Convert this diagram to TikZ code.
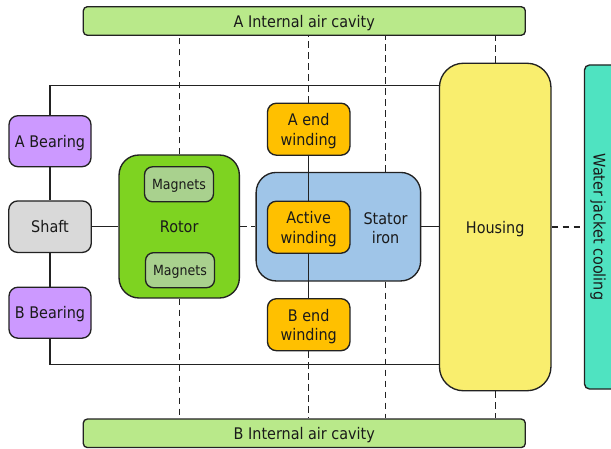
\documentclass[tikz,border=0pt]{standalone}
\usepackage{fontspec}
\setmainfont{DejaVu Sans Condensed}
\usepackage{tikz}
\definecolor{linedark}{HTML}{222222}
\definecolor{txtdark}{HTML}{1A1A1A}
\definecolor{aircol}{HTML}{B9E98A}
\definecolor{bearcol}{HTML}{CC99FF}
\definecolor{shaftcol}{HTML}{D9D9D9}
\definecolor{rotorcol}{HTML}{7ED321}
\definecolor{magcol}{HTML}{A9D18E}
\definecolor{statorcol}{HTML}{9FC5E8}
\definecolor{windcol}{HTML}{FFC000}
\definecolor{housecol}{HTML}{F9EE6E}
\definecolor{watercol}{HTML}{4FE3C1}
\tikzstyle{block} = [rectangle, draw=linedark, line width=1.35pt, inner sep=0pt, align=center, text=txtdark, text depth=-1pt, font=\fontsize{16}{19.5}\selectfont]
\tikzstyle{cavity} = [block, rounded corners=4pt, fill=aircol, minimum width=442pt, minimum height=28.5pt]
\tikzstyle{bearing} = [block, rounded corners=9pt, fill=bearcol, minimum width=82pt, minimum height=51pt]
\tikzstyle{winding} = [block, rounded corners=9pt, fill=windcol, minimum width=82.5pt, minimum height=52pt]
\tikzstyle{magnet} = [block, rounded corners=8pt, fill=magcol, minimum width=69pt, minimum height=35pt, font=\fontsize{14}{17}\selectfont]
\tikzstyle{conn} = [draw=linedark, line width=1.35pt]
\tikzstyle{thermal} = [conn, dash pattern=on 6.5pt off 4.5pt]

\begin{document}
\begin{tikzpicture}[x=1pt, y=-1pt]
	\clip (0,0) rectangle (611,449);
	
	\node (acav) [cavity] at (304.3,21) {A Internal air cavity};
	\node (bcav) [cavity] at (304.3,433.3) {B Internal air cavity};
	
	\node (housing) [block, rounded corners=24pt, fill=housecol, minimum width=111.5pt, minimum height=327.5pt] at (495.2,227) {Housing};
	\node (water) [block, rounded corners=5pt, fill=watercol, minimum width=42pt, minimum height=324pt] at (605.5,227) {};
	\node (watertxt) [rotate=-90, text=txtdark, font=\fontsize{16}{19.5}\selectfont] at (598,227) {Water jacket cooling};
	
	\node (abear) [bearing] at (50,141.2) {A Bearing};
	\node (shaft) [block, rounded corners=9pt, fill=shaftcol, minimum width=82.5pt, minimum height=51.5pt] at (50,226.7) {Shaft};
	\node (bbear) [bearing] at (50,312.7) {B Bearing};
	
	\node (rotor) [block, rounded corners=20pt, fill=rotorcol, minimum width=120.3pt, minimum height=143pt] at (179.2,226.5) {Rotor};
	\node (magtop) [magnet] at (179,184.3) {Magnets};
	\node (magbot) [magnet] at (180,270.2) {Magnets};
	
	\node (stator) [block, rounded corners=20pt, fill=statorcol, minimum width=164.5pt, minimum height=108.5pt] at (338.4,226.7) {};
	\node (siron) [text=txtdark, align=center, inner sep=0pt, font=\fontsize{16}{19.5}\selectfont] at (385.5,228) {Stator\\iron};
	\node (aend) [winding] at (308.7,129.2) {A end\\winding};
	\node (active) [winding] at (308.7,227.2) {Active\\winding};
	\node (bend) [winding] at (308.7,324.7) {B end\\winding};
	
	% conduction paths
	\coordinate (atop) at (50,85.3);
	\coordinate (abot) at (50,364.3);
	\draw[conn] (abear.north) -- (atop) -- (atop -| housing.west);
	\draw[conn] (bbear.south) -- (abot) -- (abot -| housing.west);
	\draw[conn] (abear.south) -- (shaft.north);
	\draw[conn] (shaft.south) -- (bbear.north);
	\draw[conn] (shaft.east) -- (rotor.west |- shaft.east);
	\draw[conn] (aend.south) -- (active.north);
	\draw[conn] (active.south) -- (bend.north);
	\draw[conn] (stator.east) -- (housing.west |- stator.east);
	
	% convection paths
	\draw[thermal] (rotor.north) -- (rotor.north |- acav.south);
	\draw[thermal] (rotor.south) -- (rotor.south |- bcav.north);
	\draw[thermal] (aend.north) -- (aend.north |- acav.south);
	\draw[thermal] (bend.south) -- (bend.south |- bcav.north);
	\draw[thermal] (siron |- stator.north) -- (siron |- acav.south);
	\draw[thermal] (siron |- stator.south) -- (siron |- bcav.north);
	\draw[thermal] (housing.north) -- (housing.north |- acav.south);
	\draw[thermal] (housing.south) -- (housing.south |- bcav.north);
	\draw[thermal] (rotor.east) -- (stator.west |- rotor.east);
	\draw[thermal] (housing.east) -- (water.west |- housing.east);
	
\end{tikzpicture}
\end{document}
